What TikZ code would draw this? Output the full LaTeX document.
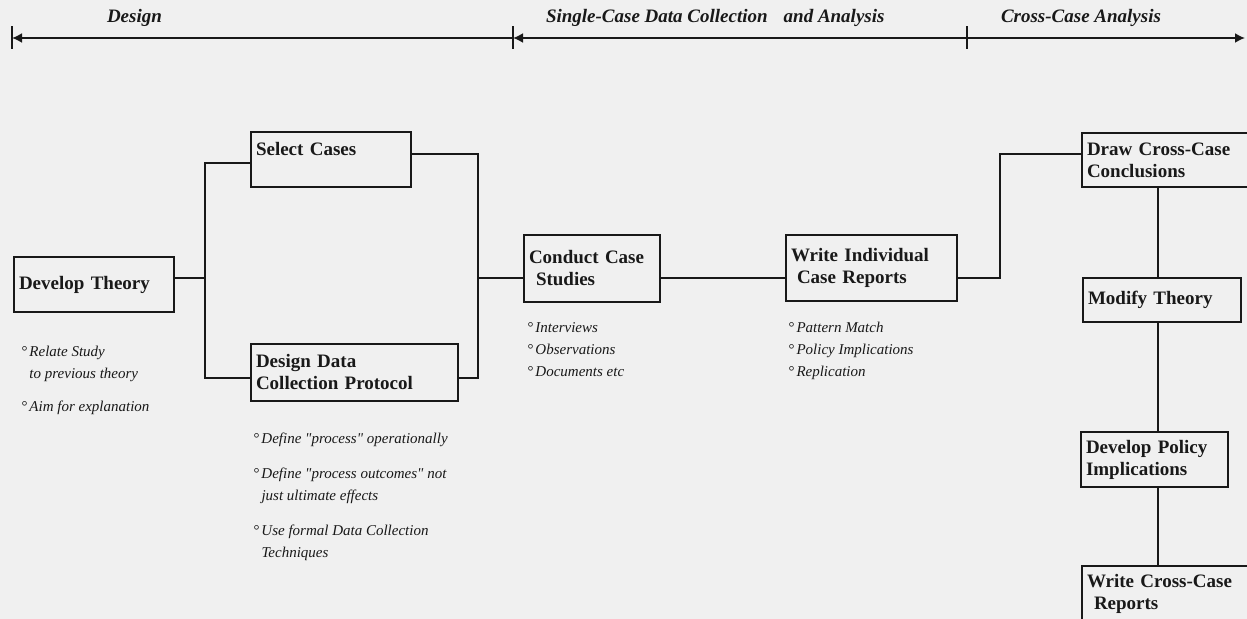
\documentclass[tikz,border=0pt]{standalone}
\usepackage{fontspec}
\setmainfont{Liberation Serif}
\usetikzlibrary{arrows.meta}
\definecolor{paper}{gray}{0.94}
\definecolor{ink}{gray}{0.1}

\begin{document}
\begin{tikzpicture}[x=0.5pt, y=-0.5pt, line width=1pt, color=ink,
    stage/.style 2 args={draw, anchor=north west, align=left, inner xsep=2.5pt,
      inner ysep=0pt, text width=#1, minimum height=#2,
      font=\bfseries\fontsize{9.5}{11}\selectfont},
    notes/.style={anchor=north west, align=left, inner sep=0pt,
      font=\itshape\fontsize{7.5}{11}\selectfont},
    heading/.style={anchor=west, inner sep=0pt,
      font=\bfseries\itshape\fontsize{9.5}{11}\selectfont},
    phase/.style={line width=0.9pt}]
    \useasboundingbox (0,0) rectangle (1247,619);
    \clip (0,0) rectangle (1247,619);
    \fill[paper] (0,0) rectangle (1247,619);

    % time line with the three phases
    \node[heading] (design) at (106,18) {Design};
    \node[heading] (single) at (545,18) {Single-Case Data Collection\hspace{8pt}and Analysis};
    \node[heading] (cross) at (1000,18) {Cross-Case Analysis};
    \coordinate (t0) at (12,38);
    \coordinate (t1) at (513,38);
    \coordinate (t2) at (967,38);
    \coordinate (t3) at (1245,38);
    \draw[phase, {Latex[length=5pt,width=5pt]}-] (t0) -- (t1);
    \draw[phase, {Latex[length=5pt,width=5pt]}-] (t1) -- (t2);
    \draw[phase, -{Latex[length=5pt,width=5pt]}] (t2) -- (t3);
    \foreach \t in {t0, t1, t2}
    {
      \draw[phase] ([yshift=5.75pt]\t) -- ([yshift=-5.75pt]\t);
    }

    % stages
    \node[stage={75pt}{27.5pt}] (theory) at (13,256) {Develop Theory};
    \node[stage={75pt}{27.5pt}] (select) at (250,131) {Select Cases\\\mbox{}};
    \node[stage={98.5pt}{28.5pt}] (protocol) at (250,343) {Design Data\\Collection Protocol};
    \node[stage={63pt}{33.5pt}] (conduct) at (523,234) {Conduct Case\\\hspace*{3.5pt}Studies};
    \node[stage={80.5pt}{33pt}] (write) at (785,234) {Write Individual\\\hspace*{3pt}Case Reports};
    \node[stage={95pt}{27pt}] (conclude) at (1081,132) {Draw Cross-Case\\Conclusions};
    \node[stage={74pt}{22pt}] (modify) at (1082,277) {Modify Theory};
    \node[stage={68.5pt}{27.5pt}] (policy) at (1080,431) {Develop Policy\\Implications};
    \node[stage={95pt}{28pt}] (crossrep) at (1081,565) {Write Cross-Case\\\hspace*{3.5pt}Reports};

    % notes under the stages
    \node[notes] (theorynotes) at (20,345) {°\,Relate Study\\\phantom{°\,}to previous theory\\[5.5pt]°\,Aim for explanation};
    \node[notes] (protocolnotes) at (252,431.5) {°\,Define \textquotedbl process\textquotedbl\ operationally\\[6.5pt]°\,Define \textquotedbl process outcomes\textquotedbl\ not\\\phantom{°\,}just ultimate effects\\[6.5pt]°\,Use formal Data Collection\\\phantom{°\,}Techniques};
    \node[notes] (conductnotes) at (526,321.5) {°\,Interviews\\°\,Observations\\°\,Documents etc};
    \node[notes] (writenotes) at (787,321.5) {°\,Pattern Match\\°\,Policy Implications\\°\,Replication};

    % connectors
    \coordinate (jl) at (205,278);
    \coordinate (jr) at (478,278);
    \coordinate (jw) at (1000,278);
    \coordinate (spine) at (1158,0);
    \draw (theory.east |- jl) -- (jl);
    \draw ([yshift=-1.75pt]select.west) -| (jl) |- ([yshift=-2.75pt]protocol.west);
    \draw ([yshift=2.75pt]select.east) -| (jr) |- ([yshift=-2.75pt]protocol.east);
    \draw (jr) -- (conduct.west |- jr);
    \draw (conduct.east |- jr) -- (write.west |- jr);
    \draw (write.east |- jw) -- (jw) |- ([yshift=3pt]conclude.west);
    \draw (conclude.south -| spine) -- (modify.north -| spine);
    \draw (modify.south -| spine) -- (policy.north -| spine);
    \draw (policy.south -| spine) -- (crossrep.north -| spine);
  \end{tikzpicture}
\end{document}
